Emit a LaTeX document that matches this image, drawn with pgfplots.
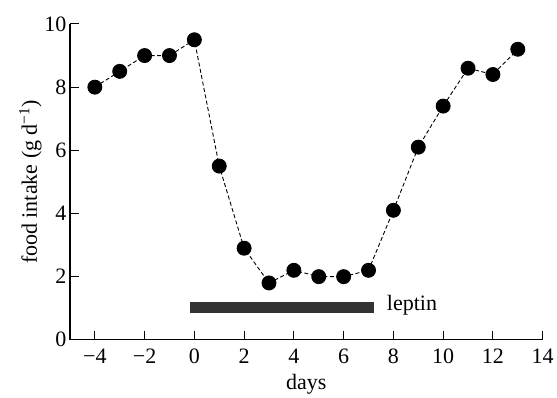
\documentclass[border=0pt]{standalone}
\usepackage{fontspec}
\setmainfont{Liberation Serif}
\usepackage{pgfplots}
\pgfplotsset{compat=1.18}
\begin{document}
\begin{tikzpicture}[font=\fontsize{22}{26}\selectfont]
\begin{axis}[
  scale only axis,
  width=473pt, height=316pt,
  xmin=-5, xmax=14, ymin=0, ymax=10,
  axis x line=bottom, axis y line=left,
  axis line style={-, line width=1.2pt},
  tick style={line width=1pt, black},
  tick align=inside,
  major tick length=9pt,
  xtick={-4,-2,0,2,4,6,8,10,12,14},
  xticklabels={−4,−2,0,2,4,6,8,10,12,14},
  ytick={0,2,4,6,8,10},
  yticklabels={0,2,4,6,8,10},
  ticklabel style={font=\fontsize{22}{26}\selectfont},
  label style={font=\fontsize{22}{26}\selectfont},
  xticklabel style={yshift=-6pt},
  xlabel={days},
  ylabel={food intake (g d\textsuperscript{−1})},
  xlabel style={at={(axis description cs:0.5,0)}, anchor=north, yshift=-31pt},
  ylabel style={yshift=-4pt},
  clip=false,
]
\addplot[draw=black!80, line width=11pt, line cap=butt] coordinates {(-0.18,1.02) (7.24,1.02)};
\node[anchor=west, font=\fontsize{22}{26}\selectfont] at (axis cs:7.6,1.1) {leptin};
\addplot[black, dash pattern=on 4pt off 2.5pt, line width=0.9pt,
  mark=*, mark size=7pt, mark options={solid, fill=black}] coordinates {
(-4,8.0) (-3,8.5) (-2,9.0) (-1,9.0) (0,9.5) (1,5.5) (2,2.9) (3,1.8) (4,2.2)
(5,2.0) (6,2.0) (7,2.2) (8,4.1) (9,6.1) (10,7.4) (11,8.6) (12,8.4) (13,9.2)
};
\end{axis}
\path (current axis.south west) ++(-70pt,-57pt) coordinate (bbA);
\path (current axis.north east) ++(14pt,24pt) coordinate (bbB);
\path (bbA) rectangle (bbB);
\end{tikzpicture}
\end{document}
